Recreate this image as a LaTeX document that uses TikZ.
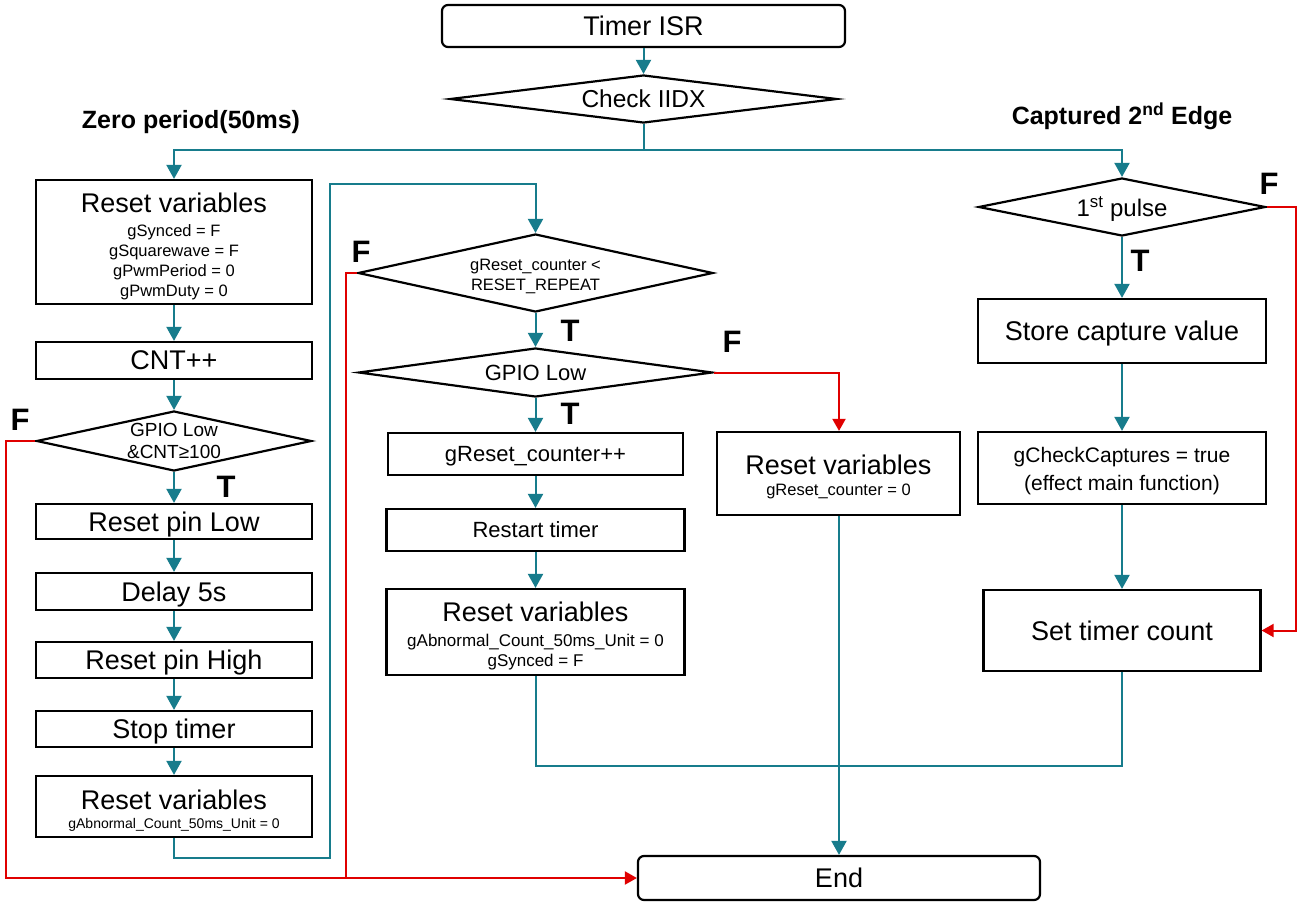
\documentclass[tikz,border=0pt]{standalone}
\usepackage{fontspec}
\setmainfont{Liberation Sans}
\usetikzlibrary{arrows.meta}
\usetikzlibrary{shapes.geometric}

\definecolor{flowTeal}{HTML}{177C8C}
\definecolor{flowRed}{HTML}{E00000}
\newcommand{\bigf}{\fontsize{27}{30}\selectfont}
\newcommand{\subf}{\fontsize{16.5}{20}\selectfont}
\newcommand{\topgap}[1]{\rule{0pt}{#1}}

\begin{document}
\begin{tikzpicture}[x = 1pt, y = -1pt]
	\tikzstyle{boxStyle} = [draw, line width = 2.2pt, rectangle, inner sep = 0pt, align = center, text depth = 0pt, font = \bigf]
	\tikzstyle{startStyle} = [boxStyle, rounded corners = 6pt]
	\tikzstyle{decisionStyle} = [draw, line width = 2.2pt, diamond, inner sep = 0pt, align = center, text depth = 0pt]
	\tikzstyle{lineStyle} = [draw = flowTeal, line width = 2pt]
	\tikzstyle{flowStyle} = [lineStyle, -{Triangle[length = 14pt, width = 15pt]}]
	\tikzstyle{falseStyle} = [draw = flowRed, line width = 2pt]
	\tikzstyle{falseArrowStyle} = [falseStyle, -{Triangle[length = 12pt, width = 13pt]}]
	\tikzstyle{tfStyle} = [font = \fontsize{31}{31}\selectfont\bfseries, inner sep = 0pt]
	\tikzstyle{headStyle} = [font = \fontsize{25}{25}\selectfont\bfseries, inner sep = 0pt]
	\path[fill = white] (0, 0) rectangle (1300, 902);
	% top
	\node[startStyle, minimum width = 403pt, minimum height = 42pt] (isr) at (643.5, 26) {Timer ISR};
	\node[decisionStyle, minimum width = 387pt, minimum height = 48pt, shape aspect = 8.06, font = \fontsize{24.5}{28}\selectfont] (iidx) at (643.5, 99) {Check IIDX};
	\node[headStyle] (zero) at (191, 122) {Zero period(50ms)};
	\node[headStyle] (capt) at (1122, 116) {Captured 2\textsuperscript{nd} Edge};
	% left column
	\node[boxStyle, minimum width = 276pt, minimum height = 124pt, font = \subf] (rv1) at (174, 242) {{\bigf\topgap{25.2pt}Reset variables}\\[3.5pt]gSynced = F\\gSquarewave = F\\gPwmPeriod = 0\\gPwmDuty = 0};
	\node[boxStyle, minimum width = 276pt, minimum height = 37pt] (cnt) at (174, 360.5) {CNT++};
	\node[decisionStyle, minimum width = 275pt, minimum height = 60pt, shape aspect = 4.58, font = \fontsize{19}{22}\selectfont] (gpioA) at (174, 441) {GPIO Low\\\&CNT≥100};
	\node[boxStyle, minimum width = 276pt, minimum height = 35pt] (pinlow) at (174, 521.5) {Reset pin Low};
	\node[boxStyle, minimum width = 276pt, minimum height = 37pt] (delay) at (174, 591.5) {Delay 5s};
	\node[boxStyle, minimum width = 276pt, minimum height = 36pt] (pinhigh) at (174, 660) {Reset pin High};
	\node[boxStyle, minimum width = 276pt, minimum height = 36pt] (stop) at (174, 729) {Stop timer};
	\node[boxStyle, minimum width = 276pt, minimum height = 61pt, font = \fontsize{14}{17}\selectfont] (rv2) at (174, 806.5) {{\bigf\topgap{24.7pt}Reset variables}\\[2.5pt]gAbnormal\_Count\_50ms\_Unit = 0};
	% middle column
	\node[decisionStyle, minimum width = 355pt, minimum height = 78pt, shape aspect = 4.55, font = \subf] (rc) at (535.5, 273) {\topgap{15.5pt}gReset\_counter <\\RESET\_REPEAT};
	\node[decisionStyle, minimum width = 354pt, minimum height = 49pt, shape aspect = 7.2, font = \fontsize{22}{26}\selectfont] (gpioB) at (535.5, 372.5) {GPIO Low};
	\node[boxStyle, minimum width = 295pt, minimum height = 42pt, font = \fontsize{22}{26}\selectfont] (rcinc) at (535.5, 454) {gReset\_counter++};
	\node[boxStyle, minimum width = 298pt, minimum height = 42pt, font = \fontsize{22}{26}\selectfont] (restart) at (535.5, 530) {Restart timer};
	\node[boxStyle, minimum width = 298pt, minimum height = 86pt, font = \fontsize{17}{20}\selectfont] (rv3) at (535.5, 632) {{\bigf\topgap{24pt}Reset variables}\\[4.5pt]gAbnormal\_Count\_50ms\_Unit = 0\\gSynced = F};
	\node[boxStyle, minimum width = 243pt, minimum height = 83pt, font = \subf] (rv4) at (838.5, 473.5) {{\bigf\topgap{23.2pt}Reset variables}\\[1.5pt]gReset\_counter = 0};
	\node[startStyle, minimum width = 402pt, minimum height = 44pt] (end) at (839, 878) {End};
	% right column
	\node[decisionStyle, minimum width = 287pt, minimum height = 58pt, shape aspect = 4.95, font = \fontsize{24}{28}\selectfont] (pulse) at (1122, 207) {1\textsuperscript{st} pulse};
	\node[boxStyle, minimum width = 288pt, minimum height = 64pt] (store) at (1122, 331) {Store capture value};
	\node[boxStyle, minimum width = 288pt, minimum height = 72pt, font = \fontsize{21}{28}\selectfont] (check) at (1122, 468) {\topgap{17pt}gCheckCaptures = true\\(effect main function)};
	\node[boxStyle, minimum width = 277pt, minimum height = 81pt] (stc) at (1122, 630.5) {Set timer count};
	% T / F labels
	\node[tfStyle] (fLeft) at (20, 420) {F};
	\node[tfStyle] (tLeft) at (226, 487) {T};
	\node[tfStyle] (fMidA) at (361, 252) {F};
	\node[tfStyle] (tMidA) at (570, 331) {T};
	\node[tfStyle] (fMidB) at (732, 342) {F};
	\node[tfStyle] (tMidB) at (570, 414) {T};
	\node[tfStyle] (fRight) at (1269, 184) {F};
	\node[tfStyle] (tRight) at (1140, 261) {T};
	% connectors
	\coordinate (split) at (643.5, 150);
	\coordinate (loopBottom) at (330, 858);
	\coordinate (loopTop) at (330, 184);
	\coordinate (falseLeft) at (6, 878);
	\coordinate (falseMid) at (346, 878);
	\coordinate (falseRight) at (1296, 630.5);
	\coordinate (merge) at (839, 766);
	\draw[flowStyle] (isr.south) -- (iidx.north);
	\draw[lineStyle] (iidx.south) -- (split);
	\draw[flowStyle] (split) -| (rv1.north);
	\draw[flowStyle] (split) -| (pulse.north);
	\foreach \a/\b in {rv1/cnt, cnt/gpioA, gpioA/pinlow, pinlow/delay, delay/pinhigh, pinhigh/stop, stop/rv2, rc/gpioB, gpioB/rcinc, rcinc/restart, restart/rv3, pulse/store, store/check, check/stc}
		\draw[flowStyle] (\a.south) -- (\b.north);
	\draw[flowStyle] (rv2.south) |- (loopBottom) -- (loopTop) -| (rc.north);
	\draw[falseArrowStyle] (gpioA.west) -| (falseLeft) -- (end.west);
	\draw[falseStyle] (rc.west) -| (falseMid);
	\draw[falseArrowStyle] (gpioB.east) -| (rv4.north -| end.north);
	\draw[lineStyle] (rv3.south) |- (merge) -| (stc.south);
	\draw[flowStyle] (rv4.south -| end.north) -- (end.north);
	\draw[falseArrowStyle] (pulse.east) -| (falseRight) -- (stc.east);
\end{tikzpicture}
\end{document}
